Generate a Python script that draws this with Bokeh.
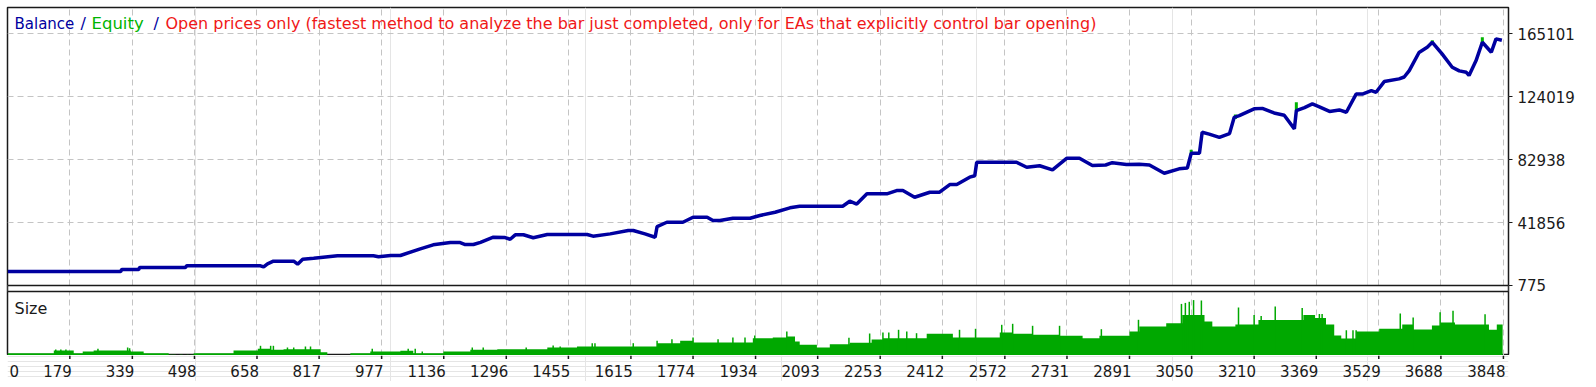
from bokeh.plotting import figure
from bokeh.models import Range1d, FixedTicker, Grid, Label, ColumnDataSource, BoxAnnotation
from bokeh.layouts import column
from bokeh.embed import file_html
from bokeh.resources import INLINE
from bokeh.core.properties import value

# ---------------- data ----------------
trade = [20, 309, 312, 355, 358, 475, 478, 544, 667, 675, 685, 700, 752, 762, 775, 803, 864, 956, 969, 1000,
         1025, 1076, 1109, 1153, 1178, 1191, 1212, 1230, 1263, 1293, 1306, 1319, 1340, 1365, 1401, 1503, 1518,
         1562, 1608, 1621, 1651, 1677, 1682, 1707, 1748, 1774, 1810, 1825, 1843, 1876, 1920, 1945, 1984, 2022,
         2047, 2157, 2175, 2193, 2219, 2270, 2295, 2311, 2341, 2380, 2405, 2431, 2449, 2482, 2495, 2500, 2602,
         2628, 2661, 2694, 2730, 2763, 2796, 2830, 2847, 2883, 2916, 2942, 2980, 3018, 3039, 3049, 3070, 3077,
         3095, 3121, 3147, 3159, 3172, 3210, 3231, 3261, 3287, 3313, 3318, 3339, 3359, 3377, 3403, 3428, 3446,
         3471, 3487, 3510, 3522, 3543, 3581, 3594, 3607, 3632, 3653, 3666, 3691, 3717, 3735, 3753, 3760, 3778,
         3794, 3817, 3829, 3844]
balance = [9920, 9920, 11225, 11225, 12530, 12530, 13640, 13640, 13640, 12900, 14950, 16640, 16640, 14700, 17950,
           18600, 20170, 20170, 19600, 20300, 20370, 24740, 27360, 28860, 28860, 27550, 27550, 29000, 32320, 32100,
           31000, 33890, 33900, 32000, 34090, 34090, 33000, 34500, 36700, 36700, 34500, 32320, 39300, 42110, 42110,
           45380, 45380, 43230, 43230, 44730, 44730, 46490, 48650, 51520, 52570, 52570, 55830, 54000, 60660, 60660,
           62820, 62820, 58440, 61720, 61720, 66740, 66740, 71540, 72500, 81300, 81300, 78040, 79000, 76340, 83890,
           83890, 79150, 79500, 81000, 79800, 80000, 79500, 74100, 76990, 77500, 87180, 87180, 100900, 99700, 97500,
           100000, 110680, 111800, 116180, 116500, 113500, 112000, 103100, 114990, 117000, 119440, 117500, 114500,
           115500, 113960, 125840, 125840, 128130, 127020, 134000, 135770, 137000, 141200, 153000, 156400, 159680,
           152100, 143350, 141000, 140090, 138000, 147720, 159680, 153150, 161900, 161000]

# equity excursions (trade, low, high)
eq_trade = [3049, 3162, 3318, 3666, 3794]
eq_low = [86000, 109500, 115000, 159000, 159000]
eq_high = [89500, 112500, 120500, 161000, 163000]

size_start = [20, 138, 189, 212, 240, 335, 368, 432, 450, 460, 468, 478, 483, 488, 496, 598, 660, 693, 726, 821,
              838, 897, 948, 1025, 1058, 1135, 1204, 1273, 1401, 1477, 1682, 1741, 1774, 1927, 1978, 2014, 2035,
              2047, 2091, 2124, 2175, 2231, 2260, 2372, 2439, 2559, 2592, 2643, 2712, 2771, 2814, 2891, 2916, 2985,
              3026, 3083, 3103, 3162, 3221, 3336, 3366, 3394, 3415, 3433, 3471, 3530, 3589, 3617, 3665, 3686, 3724,
              3811, 3831]
size_level = [0.23, 0.5, 0.23, 0.4, 0.5, 0.4, 0.23, 0.08, 0, 0.08, 0, 0.08, 0, 0.08, 0.23, 0.5, 0.67, 0.57, 0.63,
              0.33, 0, 0.23, 0.4, 0.47, 0.23, 0.4, 0.57, 0.63, 0.8, 0.9, 1.23, 1.47, 1.3, 1.73, 1.8, 1.9, 1.4, 1.07,
              0.8, 1.13, 1.27, 1.6, 1.73, 2.17, 1.8, 2.3, 2.17, 2.07, 1.97, 1.73, 1.97, 2.4, 2.9, 3.23, 4.06, 3.4,
              2.9, 3.1, 3.55, 4.06, 3.75, 3.1, 2.0, 1.7, 2.4, 2.68, 3.1, 2.6, 3.0, 3.3, 3.1, 2.58, 3.1]
size_end = 3846

spike_t = [143, 156, 169, 251, 327, 332, 667, 693, 700, 736, 752, 782, 795, 953, 1045, 1063, 1081, 1209, 1237, 1347,
           1416, 1434, 1516, 1523, 1621, 1682, 1720, 1774, 1838, 1876, 1907, 1932, 2014, 2173, 2226, 2260, 2275,
           2300, 2321, 2346, 2456, 2497, 2564, 2592, 2643, 2712, 2819, 2914, 3024, 3034, 3044, 3055, 3075, 3170,
           3210, 3228, 3264, 3333, 3377, 3384, 3446, 3463, 3471, 3584, 3617, 3686, 3719, 3801]
spike_h = [0.6, 0.6, 0.6, 0.67, 0.8, 0.73, 0.97, 0.97, 0.97, 0.8, 0.8, 0.9, 0.9, 0.67, 0.67, 0.67, 0.4, 0.8, 0.8,
           0.8, 1.0, 0.9, 1.23, 1.23, 1.23, 1.47, 1.63, 1.8, 1.63, 1.8, 1.8, 2.0, 2.4, 1.77, 2.2, 2.3, 2.3, 2.57,
           2.4, 2.23, 2.57, 2.67, 3.07, 3.17, 2.97, 2.97, 2.63, 3.57, 5.16, 5.26, 5.37, 5.54, 5.5, 4.8, 4.06, 3.96,
           4.9, 4.75, 4.16, 4.16, 2.52, 2.52, 2.52, 4.2, 3.8, 4.33, 4.48, 4.12]

x_tick_labels = ["0", "179", "339", "498", "658", "817", "977", "1136", "1296", "1455", "1615", "1774", "1934",
                 "2093", "2253", "2412", "2572", "2731", "2891", "3050", "3210", "3369", "3529", "3688", "3848"]
y_tick_values = [775, 41856, 82938, 124019, 165101]

title_parts = ["Balance", "/", "Equity", "/",
               "Open prices only (fastest method to analyze the bar just completed, only for EAs that explicitly control bar opening)"]

# ---------------- style ----------------
BLUE = "#0000A0"
GREEN_EQ = "#00B400"
GREEN = "#00A800"
RED = "#F01818"
INK = "#1A1A1A"
GRID = "#C4C4C4"
FONT = "DejaVu Sans"
FS_TICK = "15px"

X0, X1 = 19.5, 3861
xr = Range1d(X0, X1)
FW = 1501
LEFT = 7

# vertical layout (pixels) of the two panels inside one frame
MAIN_H = 278      # balance panel height
GAP = 6           # gap between the panels
SIZE_H = 64       # size panel height
FRAME_H = MAIN_H + GAP + SIZE_H
Y_BOTTOM, Y_TOP = 774, 182408
per_px = (Y_TOP - Y_BOTTOM) / MAIN_H
main_start = Y_BOTTOM - per_px * (GAP + SIZE_H)
gap_bottom = Y_BOTTOM - per_px * GAP
SIZE_TOP = 6.4
size_end_range = SIZE_TOP * FRAME_H / SIZE_H

tick_pos = [X0] + [float(v) for v in x_tick_labels[1:]]

p = figure(frame_width=FW, frame_height=FRAME_H, x_range=xr, y_range=Range1d(main_start, Y_TOP),
           output_backend="svg", toolbar_location=None, x_axis_location=None, y_axis_location="right",
           min_border_left=LEFT, min_border_top=7, min_border_bottom=0, min_border_right=72)
p.extra_y_ranges = {"size": Range1d(0, size_end_range)}
p.background_fill_color = "white"
p.border_fill_color = "white"
p.outline_line_color = INK
p.outline_line_width = 1.5

ax = p.yaxis[0]
ax.ticker = FixedTicker(ticks=y_tick_values)
ax.major_label_overrides = {v: str(v) for v in y_tick_values}
ax.axis_line_color = None
ax.major_tick_out = 4
ax.major_tick_in = 0
ax.major_tick_line_color = INK
ax.minor_tick_line_color = None
ax.major_label_standoff = 5
ax.major_label_text_font = FONT
ax.major_label_text_font_size = FS_TICK
ax.major_label_text_color = INK

p.ygrid.grid_line_color = GRID
p.ygrid.grid_line_dash = "6 4"
p.add_layout(Grid(dimension=0, ticker=FixedTicker(ticks=tick_pos[1:]), grid_line_color=GRID,
                  grid_line_dash="6 4"), "center")

# balance / equity
p.segment(x0=eq_trade, y0=eq_low, x1=eq_trade, y1=eq_high, line_color=GREEN_EQ, line_width=3)
p.line(trade, balance, line_color=BLUE, line_width=3.5)

# size
ends = size_start[1:] + [size_end]
step_x, step_y = [], []
for a, b, lv in zip(size_start, ends, size_level):
    step_x += [a, b]
    step_y += [lv, lv]
p.varea(x=step_x, y1=0, y2=step_y, fill_color=GREEN, y_range_name="size")
p.segment(x0=spike_t, y0=0, x1=spike_t, y1=spike_h, line_color=GREEN, line_width=1.5, y_range_name="size")

# separator between the two panels
p.add_layout(BoxAnnotation(top=Y_BOTTOM, bottom=gap_bottom, fill_color="white", fill_alpha=1.0,
                           line_color=INK, line_alpha=1.0, line_width=1.5))

title_x = [7, 73, 84, 146, 158]
title_fs = ["15px", "16px", "16.5px", "16px", "16px"]
title_col = [BLUE, BLUE, GREEN_EQ, BLUE, RED]
for t, xx, fs, c in zip(title_parts, title_x, title_fs, title_col):
    p.add_layout(Label(x=xx, y=FRAME_H - 16, x_units="screen", y_units="screen", text=t, text_color=c,
                       text_font=FONT, text_font_size=fs, text_baseline="middle", text_align="left"))
p.add_layout(Label(x=7, y=SIZE_H - 17, x_units="screen", y_units="screen", text="Size", text_color=INK,
                   text_font=FONT, text_font_size="16px", text_baseline="middle"))

# ---------------- x tick labels ----------------
lab = figure(frame_width=FW, frame_height=26, x_range=xr, y_range=Range1d(0, 26),
             output_backend="svg", toolbar_location=None, x_axis_location=None, y_axis_location=None,
             min_border_left=LEFT, min_border_top=0, min_border_bottom=0, min_border_right=72)
lab.outline_line_color = None
lab.segment(x0=tick_pos[1:], y0=26, x1=tick_pos[1:], y1=22.5, line_color=INK, line_width=1.5)
src = ColumnDataSource(dict(x=tick_pos, y=[11] * len(tick_pos), t=x_tick_labels,
                            al=["left"] + ["right"] * (len(tick_pos) - 1),
                            off=[2] * len(tick_pos)))
lab.text(x="x", y="y", text="t", text_align="al", x_offset="off", text_baseline="middle", source=src,
         text_font=value(FONT), text_font_size=FS_TICK, text_color=INK)

layout = column(p, lab, spacing=0)
open("out.html", "w").write(file_html(layout, INLINE))
